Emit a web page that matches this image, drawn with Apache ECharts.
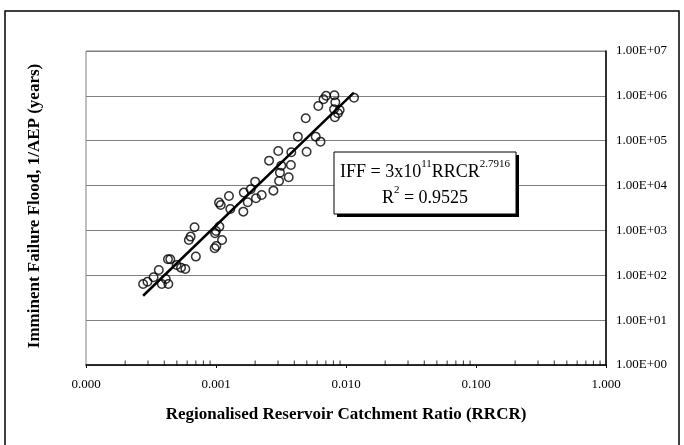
<!DOCTYPE html>
<html>
<head>
<meta charset="utf-8">
<script src="https://cdn.jsdelivr.net/npm/echarts@6/dist/echarts.min.js"></script>
<style>
html,body{margin:0;padding:0;background:#fff;}
#chart{width:684px;height:445px;}
</style>
</head>
<body>
<div id="chart"></div>
<script>
// Observed data: RRCR (x) vs Imminent Failure Flood 1/AEP (y)
var rrcr = [0.000275,0.000297,0.000331,0.000363,0.000383,0.000411,0.00043,0.000427,0.000445,0.000498,
  0.000538,0.000581,0.000618,0.000638,0.000684,0.0007,0.000976,0.001006,0.000983,0.001,
  0.001062,0.001113,0.001055,0.001087,0.001288,0.001258,0.001623,0.001636,0.001754,0.00185,
  0.002,0.00203,0.002246,0.00256,0.002765,0.003012,0.003056,0.003103,0.003178,0.003624,
  0.003767,0.003795,0.004262,0.004898,0.004977,0.005848,0.006124,0.006366,0.006716,0.007031,
  0.008143,0.008277,0.008091,0.008216,0.008672,0.008937,0.01153];
var iff = [64,72,90,131,64,83,64,227,227,170,
  148,138,613,728,1175,261,400,451,863,973,
  1216,613,4168,3700,3006,5862,2624,6966,4236,8260,
  12240,5200,6166,35970,7709,59020,12670,19410,27830,15280,
  28780,55090,123300,315500,57010,123300,594300,95300,837000,1010000,
  1030000,717800,501000,332400,408500,484000,911600];
// Power-law trend line end points
var trendX = [0.000275, 0.0115];
var trendY = [35, 1180000];
// Axis tick positions
var xDecades = [0.0001, 0.001, 0.01, 0.1];
var minorMultipliers = [2,3,4,5,6,7,8,9];
var yMin = 1, yMax = 10000000;

var points = rrcr.map(function(x,i){return [x, iff[i]];});
var minorTicks = [];
xDecades.forEach(function(d){ minorMultipliers.forEach(function(m){ minorTicks.push([d*m, yMin]); }); });

var FONT = 'Liberation Serif';
var chart = echarts.init(document.getElementById('chart'), null, {renderer:'canvas'});
chart.setOption({
  backgroundColor:'#fff',
  animation:false,
  grid:{left:86, right:78, top:51, bottom:80, show:true, borderColor:'#808080', borderWidth:1, backgroundColor:'#fff'},
  xAxis:{
    type:'log', logBase:10, min:0.0001, max:1, splitNumber:4,
    axisLine:{show:true, onZero:false, lineStyle:{color:'#000', width:1.5}},
    axisTick:{show:true, length:3, lineStyle:{color:'#000', width:1}},
    splitLine:{show:false},
    axisLabel:{margin:13, color:'#000', fontFamily:FONT, fontSize:13,
      formatter:function(v){return Number(v).toFixed(3);}},
    name:'Regionalised Reservoir Catchment Ratio (RRCR)',
    nameLocation:'middle', nameGap:41,
    nameTextStyle:{color:'#000', fontFamily:FONT, fontWeight:'bold', fontSize:17}
  },
  yAxis:{
    type:'log', logBase:10, min:yMin, max:yMax, splitNumber:7, position:'right',
    axisLine:{show:true, lineStyle:{color:'#000', width:1.5}},
    axisTick:{show:false},
    splitLine:{show:true, lineStyle:{color:'#808080', width:1}},
    axisLabel:{margin:10, color:'#000', fontFamily:FONT, fontSize:13,
      formatter:function(v){var e=Math.round(Math.log10(v)); return '1.00E+'+(e<10?'0':'')+e;}}
  },
  graphic:[
    {type:'rect', shape:{x:5,y:11,width:674,height:440}, style:{fill:'none', stroke:'#000', lineWidth:1.5}, silent:true, z:-10},
    {type:'text', x:35, y:206, rotation:Math.PI/2, style:{text:'Imminent Failure Flood, 1/AEP (years)', fill:'#000', font:'bold 17px "Liberation Serif"', align:'center', verticalAlign:'middle'}},
    {type:'rect', shape:{x:337,y:155,width:182,height:62}, style:{fill:'#000'}, z:100},
    {type:'rect', shape:{x:334,y:152,width:182,height:62}, style:{fill:'#fff', stroke:'#000', lineWidth:1}, z:101},
    {type:'text', x:425, y:170, z:102, style:{
      text:'{m|IFF = 3x10}{s|11}{m|RRCR}{s|2.7916}', align:'center', verticalAlign:'middle',
      rich:{m:{fontFamily:FONT, fontSize:18, lineHeight:22, verticalAlign:'bottom', fill:'#000', color:'#000'},
            s:{fontFamily:FONT, fontSize:11, lineHeight:22, verticalAlign:'top', fill:'#000', color:'#000'}}}},
    {type:'text', x:425, y:196, z:102, style:{
      text:'{m|R}{s|2}{m| = 0.9525}', align:'center', verticalAlign:'middle',
      rich:{m:{fontFamily:FONT, fontSize:18, lineHeight:22, verticalAlign:'bottom', fill:'#000', color:'#000'},
            s:{fontFamily:FONT, fontSize:11, lineHeight:22, verticalAlign:'top', fill:'#000', color:'#000'}}}}
  ],
  series:[
    {type:'scatter', data:points, symbol:'circle', symbolSize:8.5,
      itemStyle:{color:'rgba(0,0,0,0)', borderColor:'#000', borderWidth:1.5}, z:3, silent:true},
    {type:'line', data:trendX.map(function(x,i){return [x, trendY[i]];}), showSymbol:false, symbol:'none',
      lineStyle:{color:'#000', width:2.5}, z:4, silent:true},
    {type:'scatter', data:minorTicks, symbol:'rect', symbolSize:[1,5], symbolOffset:[0,-2],
      itemStyle:{color:'#000'}, z:5, silent:true, clip:false}
  ]
});
</script>
</body>
</html>
